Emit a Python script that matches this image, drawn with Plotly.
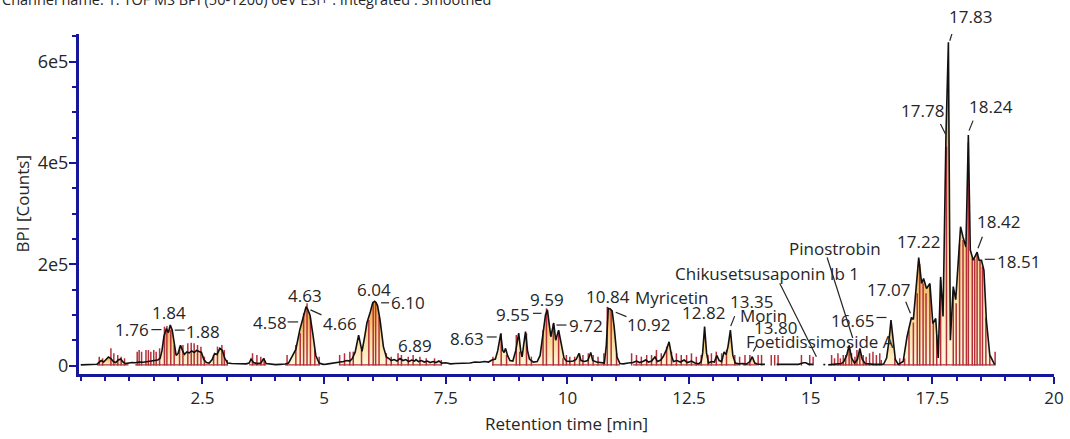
import plotly.graph_objects as go

# ---------------- data ----------------
curve_t = [0.00, 0.20, 0.33, 0.37, 0.42, 0.47, 0.52, 0.57, 0.62, 0.67, 0.72, 0.77, 0.82, 0.87, 0.92, 0.98,
           1.05, 1.12, 1.20, 1.28, 1.36, 1.44, 1.52, 1.58, 1.63, 1.67, 1.71, 1.76, 1.80, 1.84, 1.88, 1.92,
           1.96, 2.00, 2.05, 2.09, 2.13, 2.18, 2.23, 2.28, 2.33, 2.38, 2.43, 2.48, 2.53, 2.58, 2.64, 2.70,
           2.75, 2.80, 2.86, 2.91, 2.96, 3.02, 3.10, 3.20, 3.30, 3.40, 3.46, 3.50, 3.55, 3.62, 3.70, 3.76,
           3.81, 3.90, 4.00, 4.10, 4.20, 4.27, 4.35, 4.42, 4.50, 4.58, 4.63, 4.66, 4.71, 4.77, 4.83, 4.90,
           4.98, 5.05, 5.15, 5.25, 5.33, 5.40, 5.47, 5.53, 5.58, 5.64, 5.71, 5.75, 5.78, 5.84, 5.88, 5.95,
           6.00, 6.04, 6.07, 6.10, 6.15, 6.22, 6.28, 6.33, 6.38, 6.44, 6.50, 6.56, 6.62, 6.68, 6.74, 6.80,
           6.86, 6.89, 6.94, 7.00, 7.06, 7.12, 7.18, 7.24, 7.30, 7.36, 7.42, 7.50, 7.60, 7.70, 7.80, 7.90,
           8.00, 8.10, 8.20, 8.30, 8.38, 8.45, 8.52, 8.57, 8.63, 8.67, 8.70, 8.73, 8.77, 8.82, 8.88, 8.94,
           9.00, 9.04, 9.07, 9.10, 9.14, 9.18, 9.22, 9.30, 9.38, 9.44, 9.50, 9.55, 9.59, 9.63, 9.66, 9.72,
           9.76, 9.82, 9.88, 9.93, 9.98, 10.05, 10.12, 10.18, 10.24, 10.28, 10.35, 10.42, 10.48, 10.52, 10.60, 10.70,
           10.76, 10.80, 10.84, 10.88, 10.92, 10.96, 11.02, 11.08, 11.15, 11.25, 11.35, 11.42, 11.48, 11.55, 11.61, 11.67,
           11.73, 11.80, 11.85, 11.92, 11.97, 12.03, 12.09, 12.14, 12.18, 12.25, 12.32, 12.40, 12.47, 12.55, 12.62, 12.70,
           12.75, 12.78, 12.82, 12.86, 12.90, 12.96, 13.02, 13.07, 13.12, 13.17, 13.22, 13.26, 13.30, 13.35, 13.40, 13.45,
           13.52, 13.60, 13.68, 13.75, 13.80, 13.85, 13.90, 14.00, 14.06, None, 14.30, 14.45, 14.60, 14.75, 14.85, 14.90,
           14.96, 15.05, None, 15.26, 15.30, None, 15.36, 15.45, 15.55, 15.63, 15.68, 15.74, 15.79, 15.84, 15.90, 15.96,
           16.01, 16.06, 16.12, 16.20, 16.30, 16.40, 16.50, 16.56, 16.61, 16.65, 16.69, 16.74, 16.80, 16.90, 16.98, 17.07,
           17.11, 17.17, 17.22, 17.28, 17.32, 17.38, 17.45, 17.51, 17.57, 17.62, 17.67, 17.72, 17.78, 17.83, 17.855, 17.87,
           17.93, 17.98, 18.03, 18.08, 18.13, 18.19, 18.24, 18.28, 18.34, 18.42, 18.46, 18.51, 18.56, 18.61, 18.68, 18.78]
curve_y = [1500, 1500, 2500, 6000, 10000, 7000, 12000, 17000, 14000, 8000, 6000, 11000, 13000, 7000, 4000, 5000,
           6000, 5500, 7000, 6500, 8000, 8500, 9500, 11000, 14000, 30000, 58000, 73000, 65000, 80000, 70000, 42000,
           20000, 24000, 40000, 30000, 22000, 27000, 25000, 29000, 26000, 30000, 28000, 26000, 12000, 6000, 5000, 12000,
           24000, 22000, 34000, 30000, 14000, 5000, 4000, 3500, 4000, 3500, 5000, 13000, 6000, 4000, 5000, 14000,
           4000, 3000, 2000, 2500, 3000, 5000, 18000, 32000, 70000, 100000, 116000, 112000, 100000, 62000, 20000, 5000,
           2500, 3000, 4000, 5000, 7000, 8000, 10000, 9000, 14000, 27000, 60000, 40000, 28000, 60000, 84000, 106000,
           124000, 127000, 124000, 118000, 90000, 37000, 17000, 14000, 10000, 12000, 9000, 14000, 10000, 12000, 8000, 11000,
           9000, 12000, 8000, 10000, 7000, 9000, 6000, 8000, 6000, 9000, 5000, 5500, 3500, 4000, 4500, 6000,
           5000, 7000, 6500, 8000, 7000, 11000, 13000, 30000, 63000, 30000, 26000, 34000, 20000, 10000, 9000, 30000,
           64000, 30000, 17000, 40000, 67000, 30000, 13000, 7000, 8000, 20000, 60000, 100000, 110000, 80000, 57000, 84000,
           50000, 70000, 35000, 15000, 9000, 8000, 9000, 12000, 24000, 10000, 8000, 10000, 26000, 10000, 7000, 6000,
           5000, 40000, 113000, 112000, 108000, 78000, 17000, 4000, 3500, 5000, 6000, 9000, 6000, 8000, 11000, 7000,
           9000, 17000, 8000, 11000, 18000, 30000, 47000, 20000, 8000, 10000, 7000, 11000, 6000, 9000, 5000, 3500,
           8000, 25000, 77000, 25000, 5000, 8000, 7000, 20000, 10000, 8000, 27000, 22000, 37000, 70000, 20000, 5000,
           3500, 4000, 3000, 8000, 17500, 5000, 3000, 2500, 2500, None, 2500, 2500, 2800, 2500, 5500, 5500,
           2500, 2500, None, 2000, 2000, None, 1500, 2000, 2500, 4000, 8000, 20000, 40000, 15000, 5000, 12000,
           34000, 12000, 4000, 3000, 2500, 2500, 3000, 15000, 50000, 90000, 50000, 12000, 2500, 8000, 57000, 95000,
           91000, 156000, 213000, 162000, 172000, 152000, 162000, 83000, 93000, 15000, 175000, 97000, 455000, 638000, 150000, 50000,
           156000, 130000, 202000, 274000, 254000, 234000, 455000, 228000, 208000, 224000, 208000, 208000, 188000, 90000, 21000, 2000]

# integration markers (retention time, marker top)
red_t = [0.38, 0.45, 0.62, 0.68, 0.76, 0.83, 0.90,
         1.16, 1.20, 1.25, 1.34, 1.39, 1.44, 1.50, 1.55, 1.62,
         1.72, 1.77, 1.85, 1.92, 2.03, 2.10, 2.20, 2.27, 2.33, 2.40, 2.47, 2.54,
         2.73, 2.81, 2.90, 2.95, 3.01, 3.53, 3.62, 3.70, 3.77,
         4.24, 4.42, 4.51, 4.58, 4.65, 4.72, 4.81, 4.90,
         5.32, 5.42, 5.53, 5.60, 5.77, 5.92, 6.01, 6.06, 6.13,
         6.28, 6.38, 6.52, 6.59, 6.73, 6.83, 6.97, 7.10, 7.27, 7.41,
         8.47, 8.64, 8.75, 8.95, 9.02, 9.16, 9.26, 9.50, 9.57, 9.71, 9.82, 9.91,
         9.98, 10.05, 10.15, 10.25, 10.32, 10.43, 10.53, 10.63, 10.75, 10.82, 10.90, 11.01,
         11.32, 11.42, 11.52, 11.63, 11.73, 11.83, 11.93, 12.04, 12.14, 12.24, 12.34, 12.45,
         12.55, 12.65, 12.75, 12.89, 12.96, 13.06, 13.17, 13.27, 13.44, 13.54, 13.65, 13.75,
         13.92, 13.99, 14.19, 14.26, 14.33, 14.81, 14.98, 15.05,
         15.43, 15.49, 15.56, 15.61, 15.67, 15.72, 15.79, 15.84, 15.91, 15.95, 16.01, 16.08,
         16.14, 16.21, 16.28, 16.35, 16.42, 16.45, 16.73, 16.83, 16.93,
         17.02, 17.11, 17.19, 17.24, 17.31, 17.37, 17.45, 17.52, 17.59, 17.67, 17.79,
         17.93, 17.99, 18.06, 18.13, 18.20, 18.24, 18.32, 18.37, 18.42, 18.48, 18.53, 18.60, 18.68, 18.79]
red_h = [17600, 14400, 34100, 24300, 20900, 17600, 14400,
         27400, 30700, 27400, 30700, 30700, 27400, 30700, 27400, 34100,
         76800, 78000, 70200, 40700, 37400, 40700, 44000, 45200, 44000, 40700, 37400, 17600,
         20900, 37400, 40700, 30700, 11100, 24300, 20900, 17600, 14400,
         20900, 40700, 63700, 103200, 123000, 96500, 30700, 17600,
         20900, 24300, 27500, 27500, 30800, 90000, 126000, 126000, 96500,
         24300, 17600, 24300, 20900, 17600, 20900, 17600, 14400, 14400, 11000,
         17600, 63700, 20900, 60400, 27500, 63700, 17600, 70300, 113000, 83000, 68000, 14400,
         20900, 17600, 17600, 24300, 20900, 24300, 20900, 17600, 24300, 116000, 109700, 24300,
         24300, 20900, 17600, 20900, 20900, 30800, 24300, 37300, 27500, 24300, 20900, 20900,
         24300, 17600, 20900, 20900, 24300, 27500, 24300, 30800, 20900, 17600, 20900, 20900,
         20900, 20900, 20900, 20900, 20900, 20900, 20900, 17600,
         20900, 14400, 24300, 14400, 20900, 20900, 37300, 24300, 17600, 30800, 30800, 20900,
         17600, 24300, 27400, 20900, 24300, 11000, 14400, 14400, 14400,
         70000, 85000, 142700, 200000, 162000, 142700, 155900, 83500, 60000, 169000, 432200,
         149200, 123000, 240000, 247900, 234000, 440000, 212000, 210000, 221600, 208400, 195000, 95000, 20900, 27400]

# integrated windows (start, end)
windows = [(0.33, 0.98), (1.12, 3.02), (3.46, 3.81), (4.20, 4.90), (5.33, 7.42), (8.45, 9.98),
           (9.98, 11.08), (11.35, 13.52), (13.60, 13.90), (15.45, 16.50), (16.50, 16.80),
           (16.80, 17.62), (17.62, 17.87), (17.87, 18.78)]

label_text = ["1.76", "1.84", "1.88", "4.63", "4.58", "4.66", "6.04", "6.10", "6.89", "8.63",
              "9.55", "9.59", "9.72", "10.84", "10.92", "Myricetin", "12.82", "13.35", "Morin", "13.80",
              "Foetidissimoside A", "Chikusetsusaponin Ib 1", "Pinostrobin", "16.65", "17.07", "17.22",
              "17.78", "17.83", "18.24", "18.42", "18.51"]
label_t = [1.76, 1.84, 1.88, 4.63, 4.58, 4.66, 6.04, 6.10, 6.89, 8.63,
           9.55, 9.59, 9.72, 10.84, 10.92, 12.09, 12.82, 13.35, 13.80, 13.80,
           15.32, 15.12, 15.79, 16.65, 17.07, 17.22, 17.78, 17.83, 18.24, 18.42, 18.51]
label_y = [73000, 80000, 70000, 116000, 100000, 112000, 127000, 118000, 12000, 63000,
           100000, 110000, 84000, 113000, 108000, 47000, 77000, 70000, 17500, 17500,
           2000, 2000, 40000, 90000, 95000, 213000, 455000, 638000, 455000, 224000, 208000]

x_tick_vals = [2.5, 5, 7.5, 10, 12.5, 15, 17.5, 20]
x_tick_text = ["2.5", "5", "7.5", "10", "12.5", "15", "17.5", "20"]
y_tick_vals = [0, 200000, 400000, 600000]
y_tick_text = ["0", "2e5", "4e5", "6e5"]

# ---------------- label placement (pixel offsets, screen coords) ----------------
label_dx = [-34, -1, 31, -1, -34, 32, -1, 30, -1, -34,
            -32.5, 0, 32.7, 0, 36.6, 3, -1, 21.3, 11.5, 23.5,
            -6.5, -50, -14.4, -38.7, -23, 0, -23, 22.4, 22.2, 21.8, 36.6]
label_dy = [1, -13, 1, -11, 8, 14.5, -11.5, -3, -14.5, 4.6,
            0, -10.6, 2, -11.6, 14, -44, -14, -29, -41.7, -29.2,
            -23, -91.3, -97, 1, -27.5, -16, -25, -25.6, -28.4, -30.4, 1.5]
leaders = {0: (-15, 1, -5, 1), 2: (2.5, 0, 12.5, 0), 4: (-16, 7, -5.5, 7), 5: (3, 1, 14, 6),
           7: (3.5, -3, 11.5, -3), 9: (-14, 3.3, -4, 3.3), 10: (-12.5, -1.6, -4, -1.6),
           12: (2.7, 2, 12.7, 2), 14: (3.6, 1.4, 14.3, 5.8), 17: (0.3, -4, 4.3, -14),
           19: (1, -5.2, 4.5, -11.7), 21: (-36.8, -81.3, -0.1, -7.9), 22: (-22, -87.8, 3.6, -7.3),
           23: (-14.5, -2.5, -4.5, -2.5), 24: (-5.7, -15.8, -1, -4.2), 26: (-5.5, -11, -0.5, -1),
           27: (4.7, -12.3, 1.4, -1.6), 28: (4.7, -14.4, 0.7, -4.4), 29: (5.3, -15.4, 0.9, -3.8),
           30: (3.3, -0.9, 13.3, -0.9)}

AXIS = "#16169a"
RED = "#b3303a"
TXT = "#262626"
FONT = "Open Sans"
BASE_LEVEL = 1500

fig = go.Figure()

pts = [(t, y) for t, y in zip(curve_t, curve_y) if t is not None]
base_x, base_y = [], []
for a, b in windows:
    xs = [t for t, y in pts if a <= t <= b]
    ys = [y for t, y in pts if a <= t <= b]
    fig.add_trace(go.Scatter(
        x=xs, y=ys, mode="lines", line=dict(width=0), fill="tozeroy",
        fillgradient=dict(type="vertical", start=0, stop=max(ys),
                          colorscale=[[0, "#fff8dc"], [0.5, "#fbd68e"], [1, "#ee9a3a"]]),
        hoverinfo="skip", showlegend=False))
    base_x += [xs[0], xs[-1], None]
    base_y += [BASE_LEVEL, BASE_LEVEL, None]

fig.add_trace(go.Scatter(x=base_x, y=base_y, mode="lines", line=dict(color=RED, width=1.2),
                         hoverinfo="skip", showlegend=False))

rx, ry = [], []
for t, h in zip(red_t, red_h):
    rx += [t, t, None]
    ry += [0, h, None]
fig.add_trace(go.Scatter(x=rx, y=ry, mode="lines", line=dict(color=RED, width=1.5),
                         hoverinfo="skip", showlegend=False))

fig.add_trace(go.Scatter(x=curve_t, y=curve_y, mode="lines", connectgaps=False,
                         line=dict(color="#111111", width=1.6), showlegend=False))

annotations = []
shapes = []
for i, (txt, t, y) in enumerate(zip(label_text, label_t, label_y)):
    annotations.append(dict(x=t, y=y, xref="x", yref="y", text=txt, showarrow=False,
                            xanchor="center", yanchor="middle",
                            xshift=label_dx[i], yshift=-label_dy[i],
                            font=dict(family=FONT, size=17, color=TXT)))
    if i in leaders:
        x0, y0, x1, y1 = leaders[i]
        shapes.append(dict(type="line", xref="x", yref="y", xsizemode="pixel", ysizemode="pixel",
                           xanchor=t, yanchor=y, x0=x0, x1=x1, y0=-y0, y1=-y1,
                           line=dict(color=TXT, width=1.2)))

annotations.append(dict(x=0.5, y=-0.147, xref="paper", yref="paper", text="Retention time [min]",
                        showarrow=False, xanchor="center", yanchor="middle",
                        font=dict(family=FONT, size=17, color=TXT)))
annotations.append(dict(x=-0.058, y=0.5, xref="paper", yref="paper", text="BPI [Counts]",
                        showarrow=False, xanchor="center", yanchor="middle", textangle=-90,
                        font=dict(family=FONT, size=17, color=TXT)))
annotations.append(dict(x=-79 / 975, y=(374 - 11) / 340, xref="paper", yref="paper",
                        text="Channel name: 1: TOF MS BPI (50-1200) 6eV ESI+ : Integrated : Smoothed",
                        showarrow=False, xanchor="left", yanchor="bottom",
                        font=dict(family=FONT, size=14.5, color=TXT)))

fig.update_layout(
    width=1070, height=439, autosize=False,
    margin=dict(l=79, r=16, t=34, b=65, autoexpand=False),
    paper_bgcolor="white", plot_bgcolor="white",
    showlegend=False,
    annotations=annotations, shapes=shapes,
    xaxis=dict(range=[-0.036, 20.0], showgrid=False, zeroline=False, automargin=False,
               showline=True, linecolor=AXIS, linewidth=3,
               tickvals=x_tick_vals, ticktext=x_tick_text,
               ticks="outside", ticklen=7, tickwidth=1.5, tickcolor=AXIS,
               tickfont=dict(family=FONT, size=17, color=TXT),
               minor=dict(tick0=0, dtick=0.5, ticks="outside", ticklen=4, tickwidth=1.5, tickcolor=AXIS)),
    yaxis=dict(range=[-16580, 654400], showgrid=False, zeroline=False, automargin=False,
               showline=True, linecolor=AXIS, linewidth=3,
               tickvals=y_tick_vals, ticktext=y_tick_text, ticklabelstandoff=-3,
               ticks="outside", ticklen=7, tickwidth=1.5, tickcolor=AXIS,
               tickfont=dict(family=FONT, size=18, color=TXT),
               minor=dict(tick0=0, dtick=50000, ticks="outside", ticklen=4, tickwidth=1.5, tickcolor=AXIS)),
)

fig.write_html("out.html")
